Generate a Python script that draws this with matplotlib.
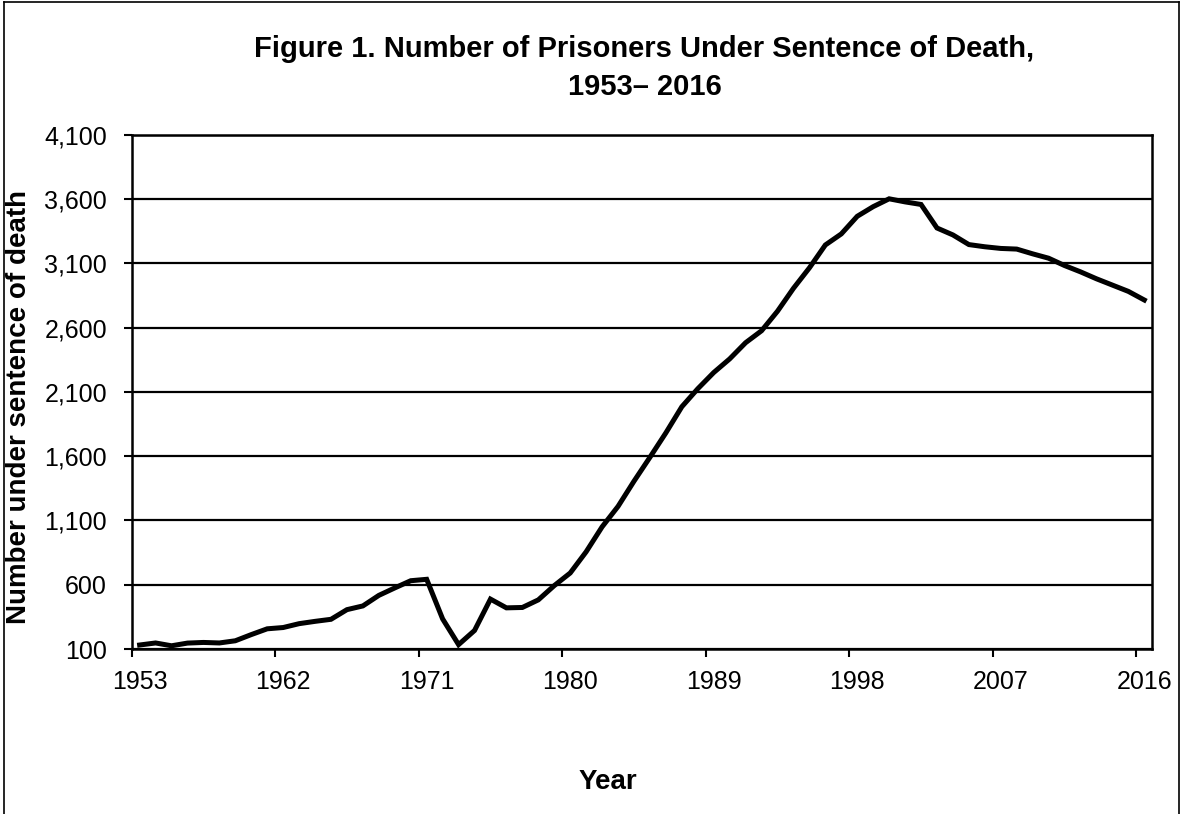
import numpy as np
import matplotlib
matplotlib.use( 'Agg' )
import matplotlib.pyplot as plt
from matplotlib.lines import Line2D

plt.rcParams.update( { 'font.family': [ 'Liberation Sans', 'DejaVu Sans' ] } )

years = np.arange( 1953, 2017 )
prisoners = [
	131, 147, 125, 146, 151, 147, 164, 212, 257, 267,
	297, 315, 331, 406, 435, 517, 575, 631, 642, 334,
	134, 244, 488, 420, 423, 482, 593, 691, 856, 1050,
	1209, 1405, 1591, 1781, 1984, 2124, 2250, 2356, 2482, 2575,
	2727, 2905, 3064, 3242, 3328, 3465, 3540, 3601, 3577, 3557,
	3374, 3320, 3245, 3228, 3215, 3210, 3173, 3139, 3082, 3033,
	2979, 2930, 2881, 2814 ]
tick_years = [ 1953, 1962, 1971, 1980, 1989, 1998, 2007, 2016 ]
y_ticks    = [ 100, 600, 1100, 1600, 2100, 2600, 3100, 3600, 4100 ]

fig = plt.figure( figsize = ( 11.84, 8.14 ), dpi = 100 )
ax  = fig.add_axes( [ 0.1112, 0.2027, 0.8620, 0.6319 ] )

# category style axis: data at centres, ticks on category boundaries
ax.plot( years, prisoners, color = 'black', linewidth = 3.6, solid_joinstyle = 'miter' )
ax.set_xlim( years[ 0 ] - 0.5, years[ -1 ] + 0.5 )
ax.set_ylim( y_ticks[ 0 ], y_ticks[ -1 ] )

ax.set_xticks( [ y - 0.5 for y in tick_years ] )
ax.set_xticklabels( [] )
ax.set_xticks( tick_years, minor = True )
ax.set_xticklabels( [ str( y ) for y in tick_years ], minor = True, fontsize = 18 )
ax.tick_params( axis = 'x', which = 'major', direction = 'out', length = 6, width = 1.5 )
ax.tick_params( axis = 'x', which = 'minor', length = 0, pad = 15 )

ax.set_yticks( y_ticks )
ax.set_yticklabels( [ f'{v:,}' for v in y_ticks ], fontsize = 18 )
ax.tick_params( axis = 'y', direction = 'out', length = 5.8, width = 1.5, pad = 12 )

ax.grid( axis = 'y', color = 'black', linewidth = 1.6 )
ax.set_axisbelow( True )
for s in ax.spines.values():
	s.set_linewidth( 1.8 )

ax.set_ylabel( 'Number under sentence of death', fontsize = 20, fontweight = 'bold' )
ax.yaxis.set_label_coords( -0.0977, 0.471 )
ax.set_xlabel( 'Year', fontsize = 20, fontweight = 'bold' )
ax.xaxis.set_label_coords( 0.467, -0.2333 )
fig.text( 0.5443, 0.9165, 'Figure 1. Number of Prisoners Under Sentence of Death,\n1953\u2013 2016',
	ha = 'center', va = 'center', fontsize = 21, fontweight = 'bold', linespacing = 1.42 )

# outer chart frame (bottom edge is cropped off in the original)
fig.add_artist( Line2D( [ 0.003, 0.003 ], [ 0.0, 0.997 ], transform = fig.transFigure, color = 'black', linewidth = 1.2 ) )
fig.add_artist( Line2D( [ 0.003, 0.996 ], [ 0.997, 0.997 ], transform = fig.transFigure, color = 'black', linewidth = 1.2 ) )
fig.add_artist( Line2D( [ 0.996, 0.996 ], [ 0.0, 0.997 ], transform = fig.transFigure, color = 'black', linewidth = 1.2 ) )

fig.savefig( 'out.png', dpi = 100 )
